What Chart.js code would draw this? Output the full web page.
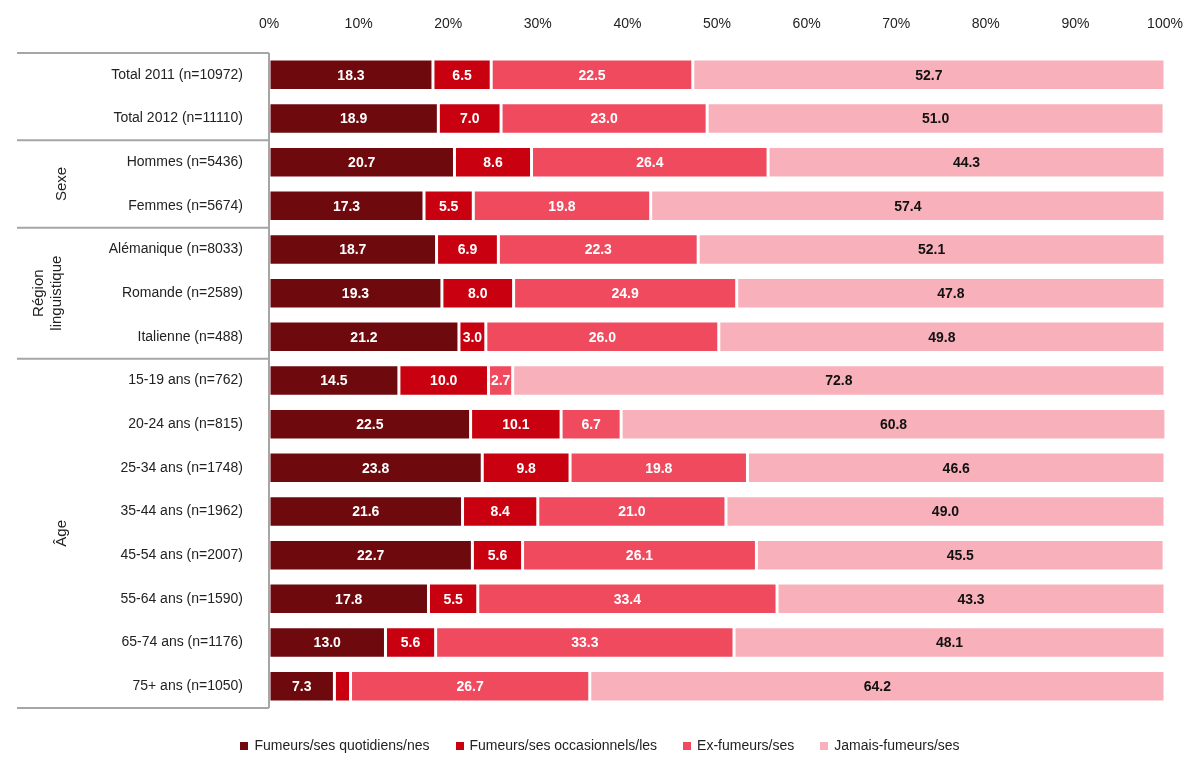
<!DOCTYPE html>
<html lang="fr">
<head>
  <meta charset="UTF-8" />
  <title>Statut tabagique</title>
  <script src="https://cdn.jsdelivr.net/npm/chart.js"></script>
  <style>
    body { margin: 0; background: #fff; font-family: 'Liberation Sans', Arial, sans-serif; }
    .wrap { position: relative; width: 1200px; height: 769px; }
    .legend { position: absolute; top: 737px; left: 0; width: 1200px; display: flex; justify-content: center; gap: 26px; font-size: 14px; color: #222; }
    .legend span i { display: inline-block; width: 8px; height: 8px; margin-right: 6px; }
  </style>
</head>
<body>
  <div class="wrap">
    <canvas id="chart" width="1200" height="769"></canvas>
    <div class="legend">
      <span><i style="background:#6e0a0e"></i>Fumeurs/ses quotidiens/nes</span>
      <span><i style="background:#c8000f"></i>Fumeurs/ses occasionnels/les</span>
      <span><i style="background:#ef4a5e"></i>Ex-fumeurs/ses</span>
      <span><i style="background:#f8b1ba"></i>Jamais-fumeurs/ses</span>
    </div>
  </div>
  <script>
    const categories = ['Total 2011 (n=10972)', 'Total 2012 (n=11110)', 'Hommes (n=5436)', 'Femmes (n=5674)',
      'Alémanique (n=8033)', 'Romande (n=2589)', 'Italienne (n=488)', '15-19 ans (n=762)', '20-24 ans (n=815)',
      '25-34 ans (n=1748)', '35-44 ans (n=1962)', '45-54 ans (n=2007)', '55-64 ans (n=1590)', '65-74 ans (n=1176)',
      '75+ ans (n=1050)'];
    const daily = [18.3, 18.9, 20.7, 17.3, 18.7, 19.3, 21.2, 14.5, 22.5, 23.8, 21.6, 22.7, 17.8, 13.0, 7.3];
    const occasional = [6.5, 7.0, 8.6, 5.5, 6.9, 8.0, 3.0, 10.0, 10.1, 9.8, 8.4, 5.6, 5.5, 5.6, 1.8];
    const former = [22.5, 23.0, 26.4, 19.8, 22.3, 24.9, 26.0, 2.7, 6.7, 19.8, 21.0, 26.1, 33.4, 33.3, 26.7];
    const never = [52.7, 51.0, 44.3, 57.4, 52.1, 47.8, 49.8, 72.8, 60.8, 46.6, 49.0, 45.5, 43.3, 48.1, 64.2];
    // groups: [label lines, first row, last row]
    const groups = [[['Sexe'], 2, 3], [['Région', 'linguistique'], 4, 6], [['Âge'], 7, 14]];
    const separators = [0, 2, 4, 7, 15];

    const LEFT = 269;

    const decor = {
      id: 'decor',
      afterDatasetsDraw(chart) {
        const ctx = chart.ctx, area = chart.chartArea, y = chart.scales.y;
        const step = (area.bottom - area.top) / categories.length;
        ctx.save();
        // value labels
        ctx.font = 'bold 14px "Liberation Sans Narrow", "Liberation Sans", Arial';
        ctx.textAlign = 'center'; ctx.textBaseline = 'middle';
        chart.data.datasets.forEach((ds, di) => {
          chart.getDatasetMeta(di).data.forEach((bar, i) => {
            const v = ds.data[i];
            if (v < 2.5) return;
            ctx.fillStyle = di === 3 ? '#111' : '#fff';
            ctx.fillText(v.toFixed(1), (bar.x + bar.base) / 2, bar.y + 1);
          });
        });
        // separators
        ctx.strokeStyle = '#a6a6a6'; ctx.lineWidth = 2;
        separators.forEach(r => {
          const yy = area.top + r * step;
          ctx.beginPath(); ctx.moveTo(17, yy); ctx.lineTo(area.left, yy); ctx.stroke();
        });
        ctx.beginPath(); ctx.moveTo(area.left, area.top); ctx.lineTo(area.left, area.bottom); ctx.stroke();
        // group labels
        ctx.fillStyle = '#222'; ctx.font = '15px "Liberation Sans", Arial';
        groups.forEach(([lines, a, b]) => {
          const cy = (y.getPixelForValue(a) + y.getPixelForValue(b)) / 2;
          ctx.save();
          ctx.translate(lines.length > 1 ? 48 : 62, cy);
          ctx.rotate(-Math.PI / 2);
          lines.forEach((t, k) => ctx.fillText(t, 0, (k - (lines.length - 1) / 2) * 18));
          ctx.restore();
        });
        ctx.restore();
      }
    };

    const mk = (label, data, color) => ({ label, data, backgroundColor: color, borderColor: '#fff', borderWidth: 1.5, borderSkipped: false });

    new Chart(document.getElementById('chart'), {
      type: 'bar',
      data: {
        labels: categories,
        datasets: [
          mk('Fumeurs/ses quotidiens/nes', daily, '#6e0a0e'),
          mk('Fumeurs/ses occasionnels/les', occasional, '#c8000f'),
          mk('Ex-fumeurs/ses', former, '#ef4a5e'),
          mk('Jamais-fumeurs/ses', never, '#f8b1ba')
        ]
      },
      options: {
        indexAxis: 'y',
        responsive: false,
        animation: false,
        layout: { padding: { right: 35, bottom: 61 } },
        plugins: { legend: { display: false }, tooltip: { enabled: false } },
        scales: {
          x: {
            position: 'top', stacked: true, min: 0, max: 100,
            grid: { display: false }, border: { display: false },
            afterFit: s => { s.height = 53; },
            ticks: { stepSize: 10, color: '#222', font: { size: 14, family: 'Liberation Sans' }, padding: 12, callback: v => v + '%' }
          },
          y: {
            stacked: true,
            grid: { display: false }, border: { display: false },
            categoryPercentage: 1, barPercentage: 0.58,
            afterFit: s => { s.width = LEFT; },
            ticks: { color: '#222', font: { size: 14, family: 'Liberation Sans' }, padding: 18 }
          }
        }
      },
      plugins: [decor]
    });
  </script>
</body>
</html>
